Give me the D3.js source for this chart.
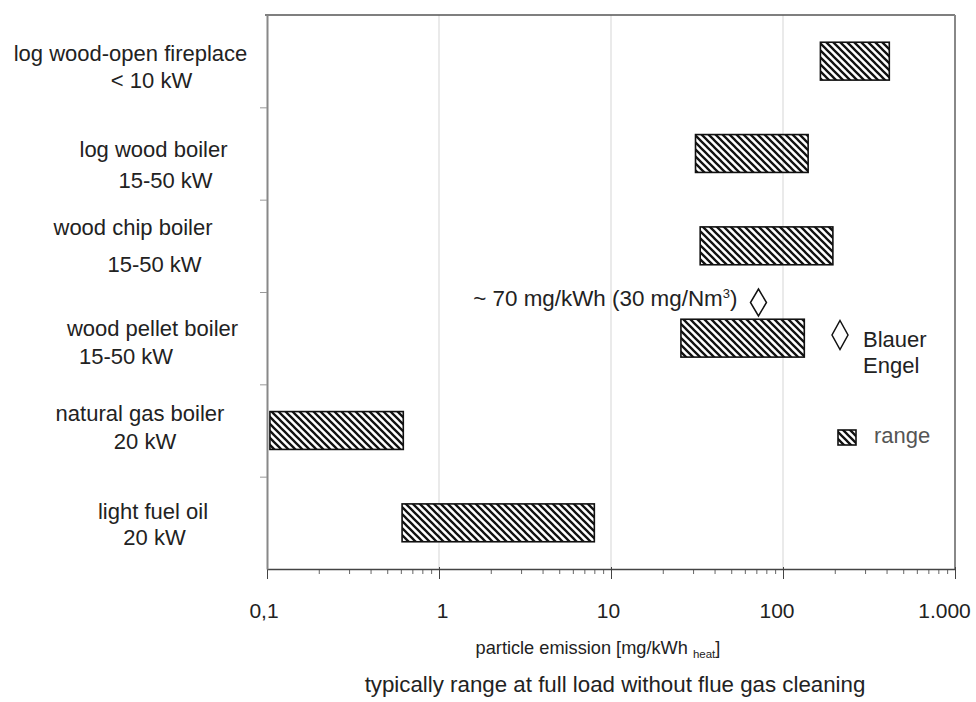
<!DOCTYPE html>
<html>
<head>
<meta charset="utf-8">
<script src="https://cdn.jsdelivr.net/npm/d3@7"></script>
<style>
  body { margin: 0; background: #fff; }
  svg { display: block; font-family: "Liberation Sans", Arial, sans-serif; }
  text { fill: #222; }
</style>
</head>
<body>
<div id="chart"></div>
<script>
// categories, top to bottom (two text lines each)
const categories = [
  ["log wood-open fireplace", "< 10 kW"],
  ["log wood boiler", "15-50 kW"],
  ["wood chip boiler", "15-50 kW"],
  ["wood pellet boiler", "15-50 kW"],
  ["natural gas boiler", "20 kW"],
  ["light fuel oil", "20 kW"]
];
// typical range, mg/kWh heat
const rangeLow = [165, 31, 33, 25.5, 0.104, 0.61];
const rangeHigh = [415, 140, 195, 133, 0.62, 8];
// Blauer Engel limit
const blauerCategory = 3;
const blauerValue = 72;

const majorTicks = [0.1, 1, 10, 100, 1000];
const majorLabels = ["0,1", "1", "10", "100", "1.000"];
const gridTicks = [1, 10, 100];

// layout only: label nudges (dx from 140, dy from band centre), tick label shifts
const labelLayout = [
  [[-9.5, -0.5], [11.5, 27]],
  [[13.5, 3], [25.5, 34]],
  [[-7, -11], [14.5, 26]],
  [[12.5, -2], [-14, 26]],
  [[0, -10], [5, 18]],
  [[13, -3.5], [14.5, 22]]
];
const tickShift = [-3.5, 3, -3, -6.5, -11];

const width = 976;
const height = 702;
const plotL = 267, plotR = 955, plotT = 15, plotB = 569;

const svg = d3.select("#chart").append("svg")
  .attr("width", width)
  .attr("height", height);

const defs = svg.append("defs");
defs.append("pattern")
  .attr("id", "hatch")
  .attr("patternUnits", "userSpaceOnUse")
  .attr("width", 7)
  .attr("height", 7)
  .append("path")
  .attr("d", "M0,0 L7,7 M-1,6 L1,8 M6,-1 L8,1")
  .attr("stroke", "#111")
  .attr("stroke-width", 2.3);

const x = d3.scaleLog().domain([0.1, 1000]).range([plotL, plotR]);
const y = d3.scaleBand().domain(d3.range(categories.length)).range([plotT, plotB]);
const rows = d3.scaleLinear().domain([0, categories.length]).range([plotT, plotB]);

// grid
svg.append("g")
  .selectAll("line")
  .data(gridTicks)
  .join("line")
  .attr("x1", (d) => x(d))
  .attr("x2", (d) => x(d))
  .attr("y1", plotT)
  .attr("y2", plotB)
  .attr("stroke", "#dcdcdc")
  .attr("stroke-width", 1.2);

// frame: top + right
svg.append("line")
  .attr("x1", plotL - 2).attr("x2", plotR).attr("y1", plotT).attr("y2", plotT)
  .attr("stroke", "#555").attr("stroke-width", 1.3);
svg.append("line")
  .attr("x1", plotR).attr("x2", plotR).attr("y1", plotT).attr("y2", plotB)
  .attr("stroke", "#888").attr("stroke-width", 2);

// minor ticks
const minorTicks = [];
for (let e = -1; e < 3; e++) {
  for (let m = 2; m <= 9; m++) minorTicks.push(m * Math.pow(10, e));
}
const minorAxis = svg.append("g")
  .attr("transform", `translate(0,${plotB})`)
  .call(d3.axisBottom(x).tickValues(minorTicks).tickSize(5).tickFormat(""));
minorAxis.select(".domain").remove();
minorAxis.selectAll("line").attr("stroke", "#666");

const xAxis = svg.append("g")
  .attr("transform", `translate(0,${plotB})`)
  .call(d3.axisBottom(x).tickValues(majorTicks).tickSizeInner(10).tickSizeOuter(0)
    .tickFormat((d, i) => majorLabels[i]));
xAxis.select(".domain").attr("stroke", "#444").attr("stroke-width", 1.5);
xAxis.selectAll(".tick line").attr("stroke", "#444").attr("y1", -2);
xAxis.selectAll(".tick text")
  .attr("y", 49)
  .attr("dy", 0)
  .attr("dx", (d, i) => tickShift[i])
  .attr("font-size", 21)
  .attr("font-family", "Liberation Sans, Arial, sans-serif")
  .attr("fill", "#222");

// left axis
const yAxis = svg.append("g")
  .attr("transform", `translate(${plotL},0)`)
  .call(d3.axisLeft(rows).tickValues(d3.range(1, categories.length)).tickSize(7).tickSizeOuter(0).tickFormat(""));
yAxis.select(".domain").attr("stroke", "#888").attr("stroke-width", 2);
yAxis.selectAll("line").attr("stroke", "#999");

// category labels
const labels = svg.append("g")
  .selectAll("g")
  .data(categories)
  .join("g");
labels.each(function (lines, i) {
  const cy = y(i) + y.bandwidth() / 2;
  d3.select(this).selectAll("text")
    .data(lines)
    .join("text")
    .attr("x", (d, j) => 140 + labelLayout[i][j][0])
    .attr("y", (d, j) => cy + labelLayout[i][j][1])
    .attr("text-anchor", "middle")
    .attr("font-size", 22)
    .text((d) => d);
});

// range bars
const barH = y.bandwidth() * 0.41;
svg.append("g")
  .selectAll("rect")
  .data(categories)
  .join("rect")
  .attr("x", (d, i) => x(rangeLow[i]))
  .attr("y", (d, i) => y(i) + (y.bandwidth() - barH) / 2)
  .attr("width", (d, i) => x(rangeHigh[i]) - x(rangeLow[i]))
  .attr("height", barH)
  .attr("fill", "url(#hatch)")
  .attr("stroke", "#111")
  .attr("stroke-width", 1.6);

// Blauer Engel marker
const diamond = (cx, cy, w, h) =>
  `M${cx},${cy - h / 2} L${cx + w / 2},${cy} L${cx},${cy + h / 2} L${cx - w / 2},${cy} Z`;

const by = y(blauerCategory) + 10.5;
svg.append("path")
  .attr("d", diamond(x(blauerValue), by, 16, 27))
  .attr("fill", "#fff")
  .attr("stroke", "#111")
  .attr("stroke-width", 1.5);

const note = svg.append("text")
  .attr("x", x(blauerValue) - 21)
  .attr("y", by + 3)
  .attr("text-anchor", "end")
  .attr("font-size", 22.4);
note.append("tspan").text("~ 70 mg/kWh (30 mg/Nm");
note.append("tspan").attr("font-size", 13).attr("dy", -8).text("3");
note.append("tspan").attr("dy", 8).text(")");

// legend
svg.append("path")
  .attr("d", diamond(840, 335, 16, 29))
  .attr("fill", "#fff")
  .attr("stroke", "#111")
  .attr("stroke-width", 1.5);
svg.append("text").attr("x", 863).attr("y", 347).attr("font-size", 22).text("Blauer");
svg.append("text").attr("x", 863).attr("y", 373).attr("font-size", 22).text("Engel");

svg.append("rect")
  .attr("x", 838).attr("y", 430).attr("width", 18).attr("height", 15)
  .attr("fill", "url(#hatch)")
  .attr("stroke", "#111")
  .attr("stroke-width", 1.6);
svg.append("text").attr("x", 874).attr("y", 443).attr("font-size", 22)
  .style("fill", "#555").text("range");

// axis title
const title = svg.append("text")
  .attr("x", 598)
  .attr("y", 654)
  .attr("text-anchor", "middle")
  .attr("font-size", 18.2);
title.append("tspan").text("particle emission [mg/kWh ");
title.append("tspan").attr("font-size", 11.5).attr("dy", 4).text("heat");
title.append("tspan").attr("dy", -4).text("]");

svg.append("text")
  .attr("x", 615)
  .attr("y", 692)
  .attr("text-anchor", "middle")
  .attr("font-size", 22.3)
  .text("typically range at full load without flue gas cleaning");
</script>
</body>
</html>
